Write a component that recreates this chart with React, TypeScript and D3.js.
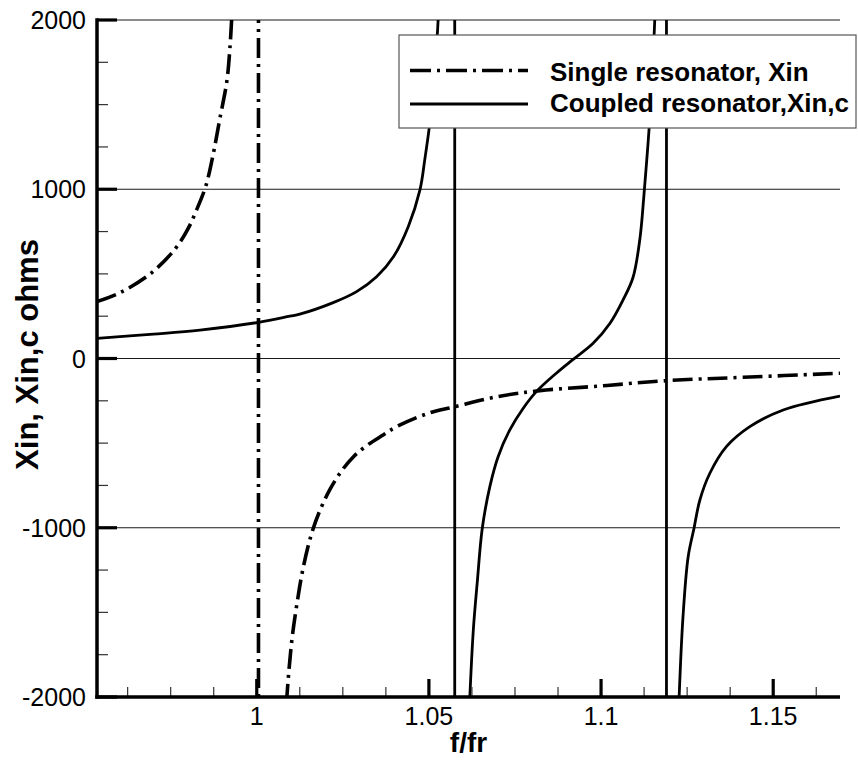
import React, { useEffect, useRef } from "react";
import * as d3 from "d3";

type Pt = [number, number];

// f/fr, reactance (ohms)
const singleLeft: Pt[] = [
  [0.9536, 336], [0.9603, 389], [0.969, 499], [0.9762, 645], [0.9801, 769],
  [0.9825, 877], [0.9852, 1019], [0.9874, 1212], [0.9893, 1419], [0.9913, 1636],
  [0.9922, 1833], [0.9928, 2040],
];
const singleRight: Pt[] = [
  [1.0086, -2040], [1.0094, -1830], [1.0104, -1630], [1.0119, -1420], [1.0135, -1235],
  [1.0159, -1036], [1.0184, -895], [1.0213, -772], [1.0246, -665], [1.0281, -580],
  [1.0319, -515], [1.0367, -452], [1.0406, -403], [1.0498, -324], [1.0575, -285],
  [1.0697, -226], [1.0822, -190], [1.1, -162], [1.119, -131], [1.1413, -111],
  [1.1694, -87],
];
const singlePoles = [1.0005];

const coupled1: Pt[] = [
  [0.9536, 119], [0.97, 144], [0.9835, 168], [1.0006, 214], [1.0096, 250],
  [1.0125, 262], [1.0222, 330], [1.029, 395], [1.0348, 483], [1.0397, 601],
  [1.044, 779], [1.0474, 996], [1.0488, 1175], [1.0502, 1380], [1.0514, 1620],
  [1.0524, 1900], [1.0528, 2050],
];
const coupled2: Pt[] = [
  [1.0618, -2040], [1.0629, -1604], [1.0641, -1309], [1.0655, -1003], [1.0677, -757],
  [1.0701, -580], [1.0735, -422], [1.0774, -294], [1.0812, -196], [1.087, -87],
  [1.0919, -5], [1.0977, 90], [1.1026, 208], [1.1064, 346], [1.1093, 480],
  [1.1113, 710], [1.1124, 950], [1.1133, 1180], [1.1141, 1400], [1.1149, 1680],
  [1.1157, 2050],
];
const coupled3: Pt[] = [
  [1.1226, -2040], [1.1238, -1526], [1.1253, -1171], [1.127, -1003], [1.1287, -836],
  [1.1316, -678], [1.1364, -521], [1.1432, -403], [1.1529, -304], [1.1694, -222],
];
const coupledPoles = [1.0575, 1.119];

const xTicks = [1, 1.05, 1.1, 1.15];
const xTickLabels = ["1", "1.05", "1.1", "1.15"];
const yTicks = [-2000, -1000, 0, 1000, 2000];
const yTickLabels = ["-2000", "-1000", "0", "1000", "2000"];
const yGrid = [-1000, 0, 1000, 2000];
const legendLabels = ["Single resonator, Xin", "Coupled resonator,Xin,c"];

const FONT = "'Liberation Sans', Arial, Helvetica, sans-serif";
const DASHDOT = "20 6 3 6";

const App: React.FC = () => {
  const svgRef = useRef<SVGSVGElement | null>(null);

  useEffect(() => {
    if (!svgRef.current) return;
    const left = 97, right = 840, top = 20, bottom = 697;
    const axisW = 3.5, majorW = 3.2;

    const x = d3.scaleLinear().domain([0.9536, 1.1694]).range([left, right]);
    const y = d3.scaleLinear().domain([-2000, 2000]).range([bottom, top]);

    const svg = d3.select(svgRef.current);
    svg.selectAll("*").remove();

    svg.append("defs").append("clipPath").attr("id", "plot-clip")
      .append("rect")
      .attr("x", left).attr("y", top)
      .attr("width", right - left).attr("height", bottom - top);

    // grid
    svg.append("g").selectAll("line")
      .data(yGrid)
      .enter()
      .append("line")
      .attr("x1", left).attr("x2", right)
      .attr("y1", d => y(d)).attr("y2", d => y(d))
      .attr("stroke", "#1a1a1a")
      .attr("stroke-width", 1.1);

    // curves
    const line = d3.line<Pt>().x(d => x(d[0])).y(d => y(d[1])).curve(d3.curveCatmullRom.alpha(0.5));
    const straight = d3.line<Pt>().x(d => x(d[0])).y(d => y(d[1]));
    const plot = svg.append("g").attr("clip-path", "url(#plot-clip)");

    const drawSeries = (branches: Pt[][], poles: number[], width: number, dash: string | null) => {
      const g = plot.append("g")
        .attr("fill", "none")
        .attr("stroke", "#000")
        .attr("stroke-width", width)
        .attr("stroke-dasharray", dash ?? "none");
      g.selectAll("path.branch")
        .data(branches)
        .enter()
        .append("path")
        .attr("class", "branch")
        .attr("d", d => line(d) ?? "");
      g.selectAll("path.pole")
        .data(poles)
        .enter()
        .append("path")
        .attr("class", "pole")
        .attr("d", p => straight([[p, 2100], [p, -2100]]) ?? "");
    };
    drawSeries([coupled1, coupled2, coupled3], coupledPoles, 2.8, null);
    drawSeries([singleLeft, singleRight], singlePoles, 3.6, DASHDOT);

    // axes, drawn as filled rects so the weights are exact
    const xMinor = d3.range(0.9625, 1.17, 0.0125).filter(v => !xTicks.some(t => Math.abs(t - v) < 1e-6));
    const yMinor = d3.range(-1750, 2000, 250).filter(v => v % 1000 !== 0);
    const axes = svg.append("g").attr("fill", "#000");

    axes.append("g").selectAll("rect")
      .data(yMinor)
      .enter()
      .append("rect")
      .attr("x", left).attr("width", 11)
      .attr("y", d => y(d) - 0.6).attr("height", 1.2)
      .attr("fill", "#333");

    axes.append("g").selectAll("rect")
      .data(xMinor)
      .enter()
      .append("rect")
      .attr("x", d => x(d) - 0.6).attr("width", 1.2)
      .attr("y", bottom - 10).attr("height", 10)
      .attr("fill", "#333");

    axes.append("g").selectAll("rect")
      .data(yTicks)
      .enter()
      .append("rect")
      .attr("x", left).attr("width", 20)
      .attr("y", d => y(d) - majorW / 2).attr("height", majorW);

    axes.append("g").selectAll("rect")
      .data(xTicks)
      .enter()
      .append("rect")
      .attr("x", d => x(d) - majorW / 2).attr("width", majorW)
      .attr("y", bottom - 18).attr("height", 18);

    axes.append("rect")
      .attr("x", left - axisW / 2).attr("width", axisW)
      .attr("y", top - axisW / 2).attr("height", bottom - top + axisW);
    axes.append("rect")
      .attr("x", left - axisW / 2).attr("width", right - left + axisW / 2)
      .attr("y", bottom - axisW / 2).attr("height", axisW);

    svg.append("g").selectAll("text")
      .data(yTicks)
      .enter()
      .append("text")
      .attr("x", left - 11)
      .attr("y", d => y(d))
      .attr("dy", "0.36em")
      .attr("text-anchor", "end")
      .style("font-family", FONT).style("font-size", "25px")
      .text((_d, i) => yTickLabels[i]);

    svg.append("g").selectAll("text")
      .data(xTicks)
      .enter()
      .append("text")
      .attr("x", d => x(d))
      .attr("y", bottom + 28)
      .attr("text-anchor", "middle")
      .style("font-family", FONT).style("font-size", "25px")
      .text((_d, i) => xTickLabels[i]);

    // titles
    svg.append("text")
      .attr("x", (left + right) / 2).attr("y", 752)
      .attr("text-anchor", "middle")
      .style("font-family", FONT).style("font-size", "28px").style("font-weight", "bold")
      .text("f/fr");

    svg.append("text")
      .attr("transform", `translate(38,${(top + bottom) / 2 - 4}) rotate(-90)`)
      .attr("text-anchor", "middle")
      .style("font-family", FONT).style("font-size", "31px").style("font-weight", "bold")
      .text("Xin, Xin,c ohms");

    // legend
    const legend = svg.append("g");
    legend.append("rect")
      .attr("x", 399).attr("y", 35).attr("width", 457).attr("height", 93)
      .attr("fill", "#fff").attr("stroke", "#555").attr("stroke-width", 1.2);

    const rows = legend.selectAll("g.row")
      .data(legendLabels)
      .enter()
      .append("g")
      .attr("class", "row")
      .attr("transform", (_d, i) => `translate(410,${i === 0 ? 70.5 : 104})`);

    rows.append("line")
      .attr("x1", 0).attr("x2", 118)
      .attr("stroke", "#000")
      .attr("stroke-width", (_d, i) => (i === 0 ? 3.6 : 2.8))
      .attr("stroke-dasharray", (_d, i) => (i === 0 ? "21 6 3 6" : "none"));

    rows.append("text")
      .attr("x", 140).attr("y", (_d, i) => (i === 0 ? 10.5 : 8))
      .style("font-family", FONT).style("font-size", "26px").style("font-weight", "bold")
      .text(d => d);
  }, []);

  return (
    <svg ref={svgRef} width={858} height={760}
      style={{ position: "absolute", left: 0, top: 0, background: "#fff" }} />
  );
};

export default App;
